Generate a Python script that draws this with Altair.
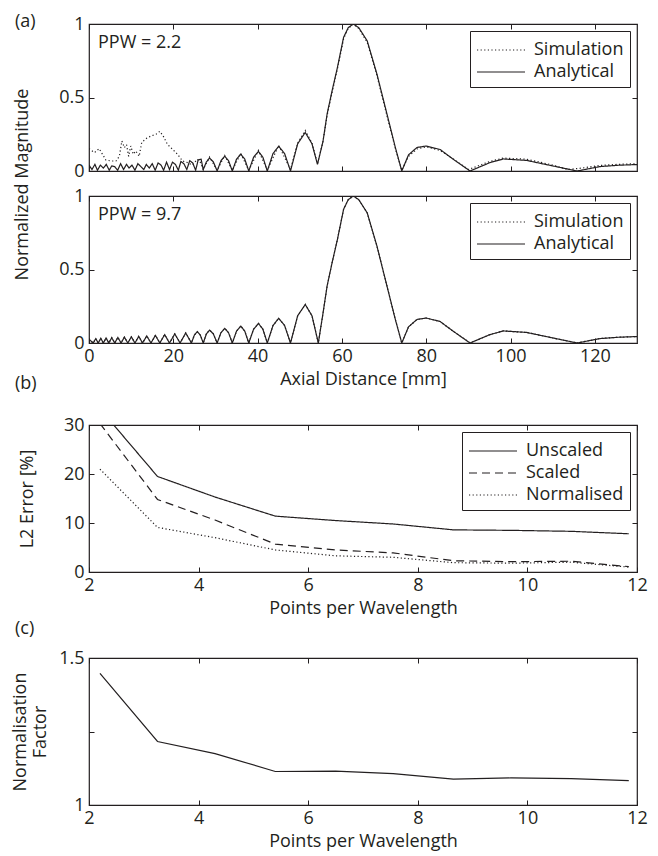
import altair as alt
import pandas as pd

FONT = "Open Sans"
INK = "#231f20"
FS = 18

# ---------------- (a) PPW = 2.2 ----------------
a1_ana_x = [0.0, 0.7, 1.4, 2.0, 2.7, 3.4, 4.1, 4.8, 5.4, 6.1, 6.8, 7.5, 8.2, 8.9, 9.5, 10.2,
            10.9, 11.6, 12.3, 13.0, 13.6, 14.3, 15.0, 15.7, 16.4, 17.1, 17.7, 18.4, 19.1,
            19.8, 20.5, 21.2, 21.8, 22.5, 23.2, 23.9, 24.6, 25.3, 25.9, 26.6, 27.1,
            27.85, 28.6, 29.5, 30.4, 31.3, 32.2, 33.1, 34.0, 35.0, 36.0, 36.95, 37.9,
            39.05, 40.2, 41.25, 42.3, 43.65, 45.0, 46.4, 47.8, 49.5, 51.3, 52.9, 54.2,
            55.5, 56.5, 57.7, 58.9, 60.4, 61.5, 62.7, 64.0, 66.0, 68.3, 70.7, 72.7, 74.2,
            75.8, 77.8, 80.0, 83.3, 86.5, 90.4, 95.1, 98.3, 103.8, 110.1, 115.8, 121.2,
            125.5, 130.0]
a1_ana_y = [0.04, 0.01, 0.045, 0.005, 0.04, 0.02, 0.045, 0.005, 0.035, 0.03, 0.005, 0.05,
            0.01, 0.045, 0.02, 0.04, 0.005, 0.05, 0.03, 0.01, 0.045, 0.02, 0.05, 0.005,
            0.055, 0.04, 0.005, 0.06, 0.01, 0.06, 0.045, 0.005, 0.065, 0.05, 0.01, 0.07,
            0.055, 0.005, 0.075, 0.08, 0.01,
            0.062, 0.088, 0.062, 0.0, 0.07, 0.10, 0.07, 0.0, 0.081, 0.115, 0.081, 0.0,
            0.094, 0.133, 0.094, 0.0, 0.119, 0.168, 0.119, 0.0, 0.185, 0.262, 0.185, 0.045,
            0.2, 0.39, 0.55, 0.70, 0.91, 0.975, 1.0, 0.975, 0.885, 0.66, 0.386, 0.157, 0.0,
            0.11, 0.16, 0.17, 0.146, 0.078, 0.0, 0.057, 0.082, 0.072, 0.034, 0.0, 0.03,
            0.039, 0.044]
a1_sim_x = [0.0, 1.3, 2.4, 3.2, 4.0, 5.2, 6.4, 7.2, 7.8, 8.4, 8.9, 9.4, 9.9, 10.5, 11.1,
            11.9, 12.5, 13.5, 14.7, 15.9, 16.8, 17.6, 18.6, 19.8, 21.0, 22.2, 23.4, 24.5,
            25.7, 26.4, 27.1, 28.6, 30.4, 32.2, 34.0, 36.0, 37.9, 40.2, 42.3, 45.0, 47.8,
            49.5, 51.3, 52.9, 54.2, 55.5, 56.5, 57.7, 58.9, 60.4, 61.5, 62.7, 64.0, 66.0,
            68.3, 70.7, 72.7, 74.2, 75.8, 77.8, 80.0, 83.3, 86.5, 90.0, 95.1, 98.3, 103.8,
            110.1, 113.5, 117.0, 121.2, 125.5, 130.0]
a1_sim_y = [0.152, 0.125, 0.152, 0.114, 0.075, 0.068, 0.068, 0.10, 0.204, 0.159, 0.18,
            0.10, 0.17, 0.114, 0.136, 0.10, 0.193, 0.22, 0.238, 0.25, 0.27, 0.238, 0.182,
            0.148, 0.114, 0.068, 0.057, 0.04, 0.08, 0.06, 0.01, 0.095, 0.005, 0.105, 0.005,
            0.12, 0.005, 0.14, 0.005, 0.175, 0.01, 0.19, 0.275, 0.19, 0.05, 0.2, 0.38, 0.54,
            0.69, 0.90, 0.97, 1.0, 0.97, 0.875, 0.65, 0.375, 0.15, 0.005, 0.10, 0.15, 0.165,
            0.14, 0.08, 0.01, 0.065, 0.088, 0.08, 0.04, 0.01, 0.02, 0.038, 0.045, 0.05]

# ---------------- (a) PPW = 9.7 ----------------
a2_ana_x = [0.0, 1.0, 1.6, 2.2, 2.8, 3.4, 4.05, 4.7, 5.4, 6.1, 6.85, 7.6, 8.4, 9.2, 10.05,
            10.9, 11.8, 12.7, 13.7, 14.7, 15.75, 16.8, 17.95, 19.1, 20.35, 21.6, 22.95,
            24.3, 25.0, 25.7, 26.4, 27.1, 27.85, 28.6, 29.5, 30.4, 31.3, 32.2, 33.1, 34.0,
            35.0, 36.0, 36.95, 37.9, 39.05, 40.2, 41.25, 42.3, 43.65, 45.0, 46.4, 47.8,
            49.5, 51.3, 52.9, 54.4, 55.5, 56.5, 57.7, 58.9, 60.4, 61.5, 62.7, 64.0, 66.0,
            68.3, 70.7, 72.7, 74.2, 75.8, 77.8, 80.0, 83.3, 86.5, 90.4, 95.1, 98.3, 103.8,
            110.1, 115.8, 121.2, 125.5, 130.0]
a2_ana_y = [0.025, 0.0, 0.030, 0.0, 0.032, 0.0, 0.034, 0.0, 0.036, 0.0, 0.038, 0.0, 0.040,
            0.0, 0.042, 0.0, 0.045, 0.0, 0.048, 0.0, 0.052, 0.0, 0.057, 0.0, 0.062, 0.0,
            0.068, 0.0, 0.054, 0.077, 0.054, 0.0, 0.062, 0.088, 0.062, 0.0, 0.07, 0.10,
            0.07, 0.0, 0.081, 0.115, 0.081, 0.0, 0.094, 0.133, 0.094, 0.0, 0.119, 0.168,
            0.119, 0.0, 0.185, 0.262, 0.185, 0.0, 0.2, 0.39, 0.55, 0.70, 0.91, 0.975, 1.0,
            0.975, 0.885, 0.66, 0.386, 0.157, 0.0, 0.11, 0.16, 0.17, 0.146, 0.078, 0.0,
            0.057, 0.082, 0.072, 0.034, 0.0, 0.03, 0.039, 0.044]
a2_sim_x = a2_ana_x
a2_sim_y = a2_ana_y

# ---------------- (b) L2 error ----------------
ppw = [2.2, 3.25, 4.3, 5.4, 6.5, 7.55, 8.65, 9.7, 10.8, 11.85]
err_unscaled = [33.3, 19.5, 15.3, 11.4, 10.5, 9.8, 8.6, 8.5, 8.3, 7.8]
err_scaled = [30.3, 14.8, 10.6, 5.7, 4.5, 3.9, 2.3, 2.1, 2.2, 1.1]
err_normalised = [21.0, 9.1, 7.0, 4.5, 3.3, 3.0, 1.9, 1.8, 2.0, 1.0]

# ---------------- (c) Normalisation factor ----------------
norm_factor = [1.448, 1.216, 1.175, 1.114, 1.115, 1.107, 1.088, 1.092, 1.090, 1.083]

a_series = ["Simulation", "Analytical"]
a_dashes = [[1.2, 2.4], [1, 0]]
b_series = ["Unscaled", "Scaled", "Normalised"]
b_dashes = [[1, 0], [8, 5], [1.2, 2.4]]


def long_df(pairs):
    frames = []
    for name, xs, ys in pairs:
        frames.append(pd.DataFrame({"x": xs, "y": ys, "series": name}))
    return pd.concat(frames, ignore_index=True)


df_a1 = long_df([("Simulation", a1_sim_x, a1_sim_y), ("Analytical", a1_ana_x, a1_ana_y)])
df_a2 = long_df([("Simulation", a2_sim_x, a2_sim_y), ("Analytical", a2_ana_x, a2_ana_y)])
df_b = long_df([("Unscaled", ppw, err_unscaled), ("Scaled", ppw, err_scaled),
                ("Normalised", ppw, err_normalised)])
df_c = long_df([("Factor", ppw, norm_factor)])

W = 548
H = 147


def panel(df, xdom, xticks, ydom, yticks, title=None, title_offset=0, show_xlabels=True,
          xtitle=None, ytitle=None, ytitle_kw=None, ylabel_expr=None, series=None,
          dashes=None, legend_offset=7, annot=None):
    xs = alt.Scale(domain=xdom, nice=False, zero=False)
    ys = alt.Scale(domain=ydom, nice=False, zero=False)
    common = dict(tickSize=5, offset=-5, domain=False, grid=False, tickColor=INK,
                  tickWidth=1)
    xkw = dict(values=xticks, labels=show_xlabels, title=xtitle, labelPadding=4,
               titlePadding=5, labelFlush=False, labelOverlap=False, **common)
    ykw = dict(values=yticks, title=ytitle, labelPadding=5, format="~r",
               labelFlush=False, labelOverlap=False, **common)
    if ytitle_kw:
        ykw.update(ytitle_kw)
    if ylabel_expr:
        ykw["labelExpr"] = ylabel_expr
    enc = dict(x=alt.X("x:Q", scale=xs, axis=alt.Axis(**xkw)),
               y=alt.Y("y:Q", scale=ys, axis=alt.Axis(**ykw)))
    if series:
        enc["strokeDash"] = alt.StrokeDash(
            "series:N", sort=series,
            scale=alt.Scale(domain=series, range=dashes),
            legend=alt.Legend(orient="top-right", title=None, symbolType="M-2,0H2",
                              symbolSize=576, symbolStrokeWidth=1.1, symbolOffset=12,
                              symbolStrokeColor=INK, strokeColor=INK, fillColor="white",
                              padding=6, offset=legend_offset, labelFontSize=FS,
                              labelFont=FONT, labelColor=INK, labelOffset=20,
                              labelExpr="datum.label + '\u00a0'",
                              rowPadding=0))
    lines = alt.Chart(df).mark_line(clip=True, color=INK, strokeWidth=1.2).encode(**enc)
    dkw = dict(labels=False, title=None, **common)
    dummy = alt.Chart(df).mark_line(opacity=0).encode(
        x=alt.X("x:Q", scale=xs, axis=alt.Axis(orient="top", values=xticks, **dkw)),
        y=alt.Y("y:Q", scale=ys, axis=alt.Axis(orient="right", values=yticks, **dkw)),
    )
    layers = [lines, dummy]
    if annot:
        layers.append(
            alt.Chart(pd.DataFrame({"t": [annot]})).mark_text(
                align="left", baseline="middle", fontSize=FS, font=FONT, color=INK
            ).encode(text="t:N", x=alt.value(9), y=alt.value(19))
        )
    ch = alt.layer(*layers).resolve_scale(x="independent", y="independent")
    props = dict(width=W, height=H)
    if title:
        props["title"] = alt.TitleParams(text=title, anchor="start", frame="group",
                                         dx=-74, offset=title_offset, fontSize=FS,
                                         font=FONT, fontWeight="normal", color=INK)
    return ch.properties(**props)


def spacer(h):
    return alt.Chart(pd.DataFrame({"s": [0]})).mark_point(opacity=0).encode(
        x=alt.value(0), y=alt.value(0)
    ).properties(width=W, height=h, view=alt.ViewConfig(stroke="transparent"))


p_a1 = panel(df_a1, [0, 130], [0, 20, 40, 60, 80, 100, 120], [0, 1], [0, 0.5, 1],
             title="(a)", title_offset=-16, show_xlabels=False,
             ytitle="Normalized Magnitude",
             ytitle_kw=dict(titleY=160, titlePadding=27),
             series=a_series, dashes=a_dashes, annot="PPW = 2.2")
p_a2 = panel(df_a2, [0, 130], [0, 20, 40, 60, 80, 100, 120], [0, 1], [0, 0.5, 1],
             xtitle="Axial Distance [mm]", series=a_series, dashes=a_dashes,
             annot="PPW = 9.7")
p_b = panel(df_b, [2, 12], [2, 4, 6, 8, 10, 12], [0, 30], [0, 10, 20, 30],
            title="(b)", title_offset=16, xtitle="Points per Wavelength",
            ytitle="L2 Error [%]", ytitle_kw=dict(titlePadding=27),
            series=b_series, dashes=b_dashes)
p_c = panel(df_c, [2, 12], [2, 4, 6, 8, 10, 12], [1, 1.5], [1, 1.25, 1.5],
            title="(c)", title_offset=11, xtitle="Points per Wavelength",
            ytitle=["Normalisation", "Factor"], ytitle_kw=dict(titlePadding=9),
            ylabel_expr="datum.value == 1.25 ? '' : datum.label")

chart = alt.vconcat(p_a1, p_a2, spacer(32), p_b, spacer(36), p_c, spacing=25,
                    bounds="flush").resolve_scale(strokeDash="independent").resolve_legend(
    strokeDash="independent"
).properties(
    padding={"left": 3, "top": 4, "right": 0, "bottom": 5}
).configure(font=FONT).configure_axis(
    labelFontSize=FS, titleFontSize=FS, labelFont=FONT, titleFont=FONT,
    labelColor=INK, titleColor=INK, titleFontWeight="normal"
).configure_view(stroke=INK, strokeWidth=1.2).configure_title(
    fontSize=FS, font=FONT, fontWeight="normal", color=INK
)

chart.save("out.html", embed_options={"renderer": "svg", "actions": False})
